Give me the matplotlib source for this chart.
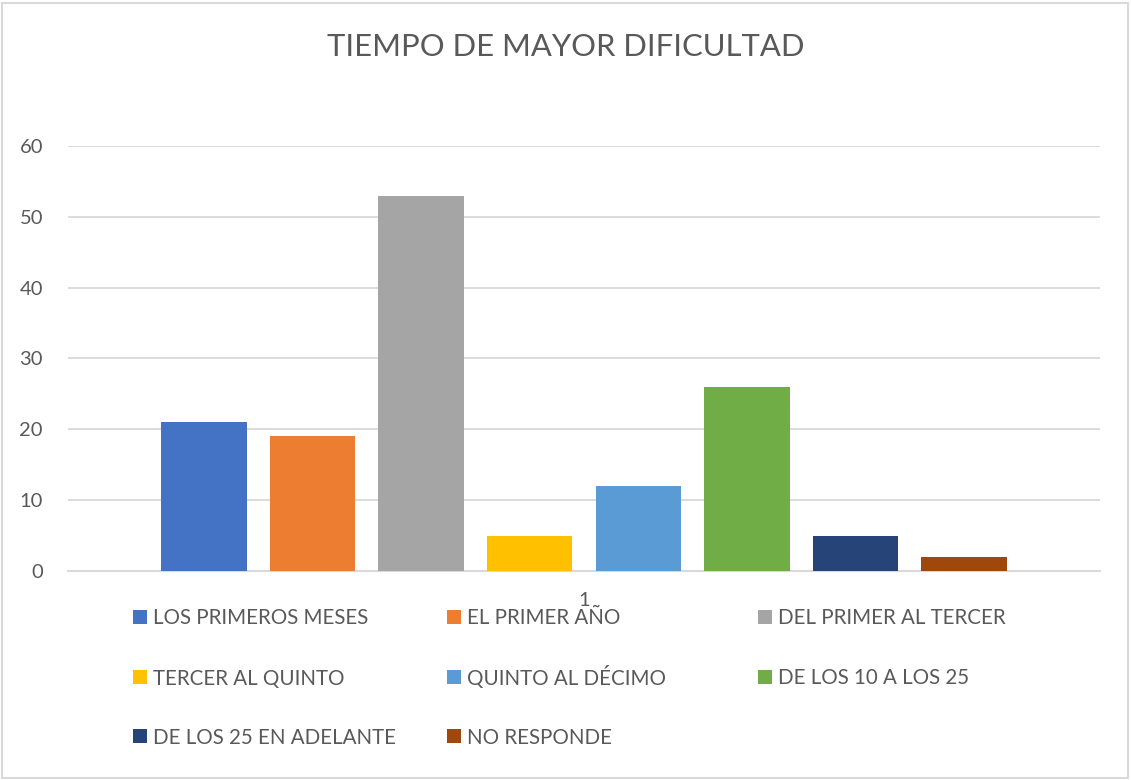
import matplotlib.pyplot as plt
from matplotlib.patches import Rectangle

plt.rcParams['font.family'] = ['Lato', 'DejaVu Sans']

# data
labels = ['LOS PRIMEROS MESES', 'EL PRIMER AÑO', 'DEL PRIMER AL TERCER',
          'TERCER AL QUINTO', 'QUINTO AL DÉCIMO', 'DE LOS 10 A LOS 25',
          'DE LOS 25 EN ADELANTE', 'NO RESPONDE']
values = [21, 19, 53, 5, 12, 26, 5, 2]
colors = ['#4472C4', '#ED7D31', '#A5A5A5', '#FFC000',
          '#5B9BD5', '#70AD47', '#264478', '#9E480E']
category = ['1']
yticks = [0, 10, 20, 30, 40, 50, 60]

text_col = '#595959'
grid_col = '#D9D9D9'
W, H = 1131, 780

fig = plt.figure(figsize=(W / 100, H / 100), dpi=100)
ax = fig.add_axes([0.0601, 0.268, 0.9125, 0.5449])

n = len(values)
step = 0.1052
width = 0.0828
for i, (v, c) in enumerate(zip(values, colors)):
    ax.bar((i - (n - 1) / 2) * step, v, width=width, color=c, zorder=3)

ax.set_xlim(-0.5, 0.5)
ax.set_ylim(0, 60)
ax.set_yticks(yticks)
ax.set_xticks([0])
ax.set_xticklabels(category)
ax.grid(axis='y', color=grid_col, linewidth=1.3, zorder=0)
for s in ['top', 'right', 'left']:
    ax.spines[s].set_visible(False)
ax.spines['bottom'].set_color(grid_col)
ax.spines['bottom'].set_linewidth(1.5)
ax.tick_params(axis='both', length=0, labelsize=14.5, labelcolor=text_col)
ax.tick_params(axis='y', pad=18)
ax.tick_params(axis='x', pad=15)

fig.text(0.5, 1 - 47 / H, 'TIEMPO DE MAYOR DIFICULTAD', ha='center', va='center',
         fontsize=22.3, color=text_col)

# legend, three columns
col_x = [133, 447, 758]
row_y = [617, 677, 736]
sq = 14
for i, (lab, c) in enumerate(zip(labels, colors)):
    r, k = divmod(i, 3)
    x0, yc = col_x[k], row_y[r]
    fig.add_artist(Rectangle((x0 / W, 1 - (yc + sq / 2) / H), sq / W, sq / H,
                             transform=fig.transFigure, facecolor=c, edgecolor='none'))
    fig.text((x0 + 20) / W, 1 - (yc + 7.5) / H, lab, ha='left', va='baseline',
             fontsize=14.8, color=text_col)

# border around the chart
fig.add_artist(Rectangle((0.002, 0.003), 0.995, 0.993, transform=fig.transFigure,
                         fill=False, edgecolor=grid_col, linewidth=1.5))

fig.savefig('out.png', dpi=100)
